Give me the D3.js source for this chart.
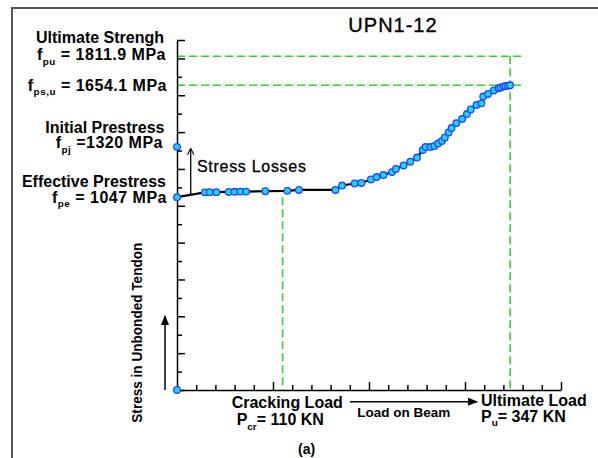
<!DOCTYPE html>
<html><head><meta charset="utf-8">
<script src="https://cdn.jsdelivr.net/npm/d3@7"></script>
<style>
html,body{margin:0;padding:0;background:#fff;}
svg{display:block;font-family:"Liberation Sans",Arial,sans-serif;}
</style></head>
<body>
<script>
// ---- data ----
const loadKN = [0, 29, 34, 41, 54, 60, 66, 72, 92, 115, 127, 165, 172, 185, 192, 202, 208, 215, 224, 228, 236, 243, 250, 256, 259, 264, 268, 272, 276, 279, 283, 286, 291, 297, 302, 306, 312, 317, 319, 324, 330, 335, 337, 340, 342, 345, 347];
const stressMPa = [1047, 1073, 1074, 1074, 1075, 1076, 1077, 1077, 1079, 1081, 1086, 1086, 1110, 1121, 1124, 1143, 1156, 1167, 1183, 1200, 1219, 1239, 1262, 1303, 1319, 1319, 1325, 1338, 1352, 1371, 1398, 1422, 1449, 1471, 1498, 1523, 1547, 1556, 1593, 1607, 1626, 1638, 1642, 1647, 1650, 1652, 1654];
const extraLoad = [0, 0];
const extraStress = [0, 1320];
const fpu = 1811.9, fpsu = 1654.1, fpj = 1320, fpe = 1047;
const Pcr = 110, Pu = 347;
const yTicks = d3.range(0, 2000, 100);
const xTicks = d3.range(0, 420, 20);

const W = 598, H = 458;
const svg = d3.select("body").append("svg").attr("width", W).attr("height", H);

// frame
svg.append("path").attr("d", "M12,460 V8 H600").attr("fill", "none")
  .attr("stroke", "#555").attr("stroke-width", 2);

const x = d3.scaleLinear().domain([0, 400]).range([177, 561]);
const y = d3.scaleLinear().domain([0, 1900]).range([390, 40]);

const green = "#2ed12e";
const dash = "8,4";
function dline(x1, y1, x2, y2) {
  svg.append("line").attr("x1", x1).attr("x2", x2).attr("y1", y1).attr("y2", y2)
    .attr("stroke", green).attr("stroke-width", 1.6).attr("stroke-dasharray", dash);
}
dline(x(0), y(fpu), 523, y(fpu));
dline(x(0), y(fpsu), 525, y(fpsu));
dline(x(Pu), y(fpu), x(Pu), y(0));
dline(x(Pcr), y(fpe), x(Pcr), y(0));

// axes
const yMajor = yTicks.filter(v => v % 200 === 0 || v === 1900);
const yMinor = yTicks.filter(v => !(v % 200 === 0 || v === 1900));
svg.append("g").attr("transform", `translate(${x(0)},0)`)
  .call(d3.axisRight(y).tickValues(yMajor).tickSize(8).tickSizeOuter(0).tickFormat(""));
const axY2 = svg.append("g").attr("transform", `translate(${x(0)},0)`)
  .call(d3.axisRight(y).tickValues(yMinor).tickSize(5).tickSizeOuter(0).tickFormat(""));
axY2.select(".domain").remove();
const xMajor = xTicks.filter(v => v % 100 === 0 && v > 0);
const xMinor = xTicks.filter(v => v % 100 !== 0);
svg.append("g").attr("transform", `translate(0,${y(0)})`)
  .call(d3.axisTop(x).tickValues(xMajor).tickSize(8).tickSizeOuter(0).tickFormat(""));
const axX2 = svg.append("g").attr("transform", `translate(0,${y(0)})`)
  .call(d3.axisTop(x).tickValues(xMinor).tickSize(5).tickSizeOuter(0).tickFormat(""));
axX2.select(".domain").remove();
svg.selectAll(".domain, .tick line").attr("stroke", "#000").attr("stroke-width", 1.5);

// curve
const line = d3.line().x((d, i) => x(loadKN[i])).y((d, i) => y(stressMPa[i]));
svg.append("path").datum(loadKN).attr("d", line).attr("fill", "none")
  .attr("stroke", "#000").attr("stroke-width", 2.2);

const pts = loadKN.map((v, i) => [v, stressMPa[i]])
  .concat(extraLoad.map((v, i) => [v, extraStress[i]]));
svg.append("g").selectAll("circle").data(pts).join("circle")
  .attr("cx", d => x(d[0])).attr("cy", d => y(d[1])).attr("r", 3.3)
  .attr("fill", "#18d8ff").attr("stroke", "#2840ff").attr("stroke-width", 1.3);

// arrows
svg.append("defs").html(`
<marker id="ah" viewBox="0 0 10 10" refX="9" refY="5" markerWidth="7" markerHeight="7" orient="auto-start-reverse">
<path d="M0,1 L10,5 L0,9 z" fill="#000"/></marker>
<marker id="ah2" viewBox="0 0 10 10" refX="9" refY="5" markerWidth="5" markerHeight="5" orient="auto-start-reverse">
<path d="M0,0 L10,5 L0,10" fill="none" stroke="#000" stroke-width="1.6"/></marker>`);
svg.append("line").attr("x1", 190.7).attr("x2", 190.7).attr("y1", 194).attr("y2", 149)
  .attr("stroke", "#000").attr("stroke-width", 1.3).attr("marker-end", "url(#ah2)");
svg.append("line").attr("x1", 165).attr("x2", 165).attr("y1", 390).attr("y2", 316)
  .attr("stroke", "#000").attr("stroke-width", 1.5).attr("marker-end", "url(#ah)");
svg.append("line").attr("x1", 350).attr("x2", 477).attr("y1", 401.7).attr("y2", 401.7)
  .attr("stroke", "#000").attr("stroke-width", 1.5).attr("marker-end", "url(#ah)");

// text helpers
function label(xp, yp, main, sub, rest, anchor, size, weight) {
  const t = svg.append("text").attr("x", xp).attr("y", yp).attr("text-anchor", anchor)
    .attr("font-size", size).attr("font-weight", weight).attr("fill", "#000");
  t.append("tspan").text(main);
  if (sub) {
    t.append("tspan").attr("font-size", size * 0.62).attr("dy", 4.5).text(sub);
    t.append("tspan").attr("dy", -4.5).text(rest);
  }
  return t;
}
label(393, 31.5, "UPN1-12", null, null, "middle", 20, "normal").attr("letter-spacing", 1)
  .attr("stroke", "#000").attr("stroke-width", 0.35);
label(164, 43, "Ultimate Strengh", null, null, "end", 16, "bold");
label(166, 60, "f", "pu", " = 1811.9 MPa", "end", 16, "bold").attr("letter-spacing", 0.5);
label(167, 90.7, "f", "ps,u", " = 1654.1 MPa", "end", 16, "bold").attr("letter-spacing", 0.5);
label(164.5, 132.7, "Initial Prestress", null, null, "end", 16, "bold");
label(163, 148, "f", "pj", " =1320 MPa", "end", 16, "bold").attr("letter-spacing", 0.5);
label(166, 187.3, "Effective Prestress", null, null, "end", 16, "bold");
label(167, 202.7, "f", "pe", " = 1047 MPa", "end", 16, "bold").attr("letter-spacing", 0.5);
label(197, 171.7, "Stress Losses", null, null, "start", 16, "normal").attr("letter-spacing", 0.7)
  .attr("stroke", "#000").attr("stroke-width", 0.3);

label(231.7, 408.3, "Cracking Load", null, null, "start", 16, "bold");
label(236.7, 425, "P", "cr", "= 110 KN", "start", 16, "bold");
label(481, 405.7, "Ultimate Load", null, null, "start", 16, "bold");
label(481, 421.7, "P", "u", "= 347 KN", "start", 16, "bold");
label(357.3, 416.7, "Load on Beam", null, null, "start", 13.5, "bold");
label(298, 453.5, "(a)", null, null, "start", 14, "bold");

svg.append("text").attr("transform", "translate(141.5,332.7) rotate(-90)")
  .attr("text-anchor", "middle").attr("font-size", 15).attr("font-weight", "bold")
  .attr("textLength", 180).attr("lengthAdjust", "spacingAndGlyphs")
  .text("Stress in Unbonded Tendon");
</script>
</body></html>
